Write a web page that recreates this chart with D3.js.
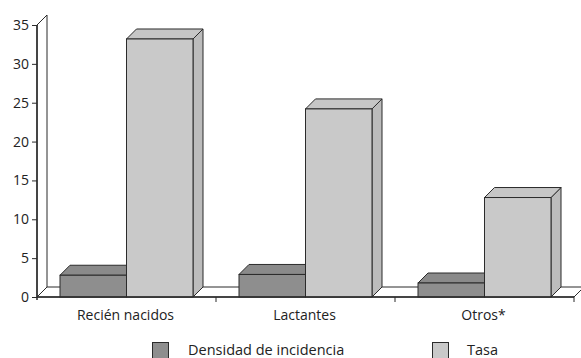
<!DOCTYPE html>
<html>
<head>
<meta charset="utf-8">
<script src="https://cdn.jsdelivr.net/npm/d3@7"></script>
<style>
  html, body { margin: 0; padding: 0; background: #fff; }
  svg { display: block; }
  text { font-family: "Open Sans", "Liberation Sans", sans-serif; fill: #222; }
</style>
</head>
<body>
<svg id="chart" width="581" height="358"></svg>
<script>
// Categories and the two series
const categories = ["Recién nacidos", "Lactantes", "Otros*"];
const seriesNames = ["Densidad de incidencia", "Tasa"];
const densidad = [2.8, 2.9, 1.8];
const tasa = [33.2, 24.2, 12.8];
const yTicks = [0, 5, 10, 15, 20, 25, 30, 35];

const depth = 10;                 // 3D offset (right and up)
const gap = 23;                   // space between category edge and its bar group
const plot = { left: 37, right: 574, top: 25, bottom: 297 };

const svg = d3.select("#chart");

const y = d3.scaleLinear().domain([0, 35]).range([plot.bottom, plot.top]);
const x = d3.scaleBand().domain(categories).range([plot.left, plot.right]).padding(0);
// Two side-by-side bars inside each category band
const inner = d3.scaleBand().domain(seriesNames).range([gap, x.bandwidth() - gap]).padding(0);
const barW = inner.bandwidth();

const colors = {
  "Densidad de incidencia": { front: "#8e8e8e", top: "#8a8a8a", side: "#7d7d7d" },
  "Tasa": { front: "#c9c9c9", top: "#c6c6c6", side: "#bcbcbc" }
};
const stroke = "#2b2b2b";

// Walls and floor
const walls = svg.append("g");
walls.append("path")
  .attr("d", `M${plot.left},${plot.bottom} L${plot.left + depth},${plot.bottom - depth} L${plot.left + depth},${plot.top - depth} L${plot.left},${plot.top} Z`)
  .attr("fill", "#fff").attr("stroke", stroke).attr("stroke-width", 1);
walls.append("path")
  .attr("d", `M${plot.left},${plot.bottom} L${plot.left + depth},${plot.bottom - depth} L${plot.right + depth},${plot.bottom - depth} L${plot.right},${plot.bottom} Z`)
  .attr("fill", "#fff").attr("stroke", stroke).attr("stroke-width", 1);

// Bars: side, top, then front face
const bars = svg.append("g");
categories.forEach((c, i) => {
  const vals = [densidad[i], tasa[i]];
  seriesNames.forEach((s, j) => {
    const x0 = x(c) + inner(s);
    const x1 = x0 + barW;
    const yt = y(vals[j]);
    const yb = y(0);
    const col = colors[s];
    bars.append("path")
      .attr("d", `M${x1},${yb} L${x1 + depth},${yb - depth} L${x1 + depth},${yt - depth} L${x1},${yt} Z`)
      .attr("fill", col.side).attr("stroke", stroke).attr("stroke-width", 1).attr("stroke-linejoin", "round");
    bars.append("path")
      .attr("d", `M${x0},${yt} L${x0 + depth},${yt - depth} L${x1 + depth},${yt - depth} L${x1},${yt} Z`)
      .attr("fill", col.top).attr("stroke", stroke).attr("stroke-width", 1).attr("stroke-linejoin", "round");
    bars.append("rect")
      .attr("x", x0).attr("y", yt).attr("width", barW).attr("height", yb - yt)
      .attr("fill", col.front).attr("stroke", stroke).attr("stroke-width", 1);
  });
});

// Y axis
const yAxis = d3.axisLeft(y).tickValues(yTicks).tickSize(5).tickPadding(3).tickFormat(d3.format("d"));
const gy = svg.append("g").attr("transform", `translate(${plot.left},0)`).call(yAxis);
gy.select(".domain").attr("d", `M0,${plot.bottom + 3}V${plot.top}`).attr("stroke", stroke).attr("stroke-width", 1.5);
gy.selectAll(".tick line").attr("stroke", stroke);
gy.selectAll(".tick text").attr("font-size", 14).attr("font-family", "Open Sans, sans-serif").attr("fill", "#222");

// X axis baseline with category boundary ticks
const xAxis = svg.append("g");
xAxis.append("line")
  .attr("x1", plot.left).attr("x2", plot.right)
  .attr("y1", plot.bottom).attr("y2", plot.bottom)
  .attr("stroke", stroke).attr("stroke-width", 1.5);
categories.forEach(c => {
  const bx = x(c) + x.bandwidth();
  xAxis.append("line").attr("x1", bx).attr("x2", bx)
    .attr("y1", plot.bottom).attr("y2", plot.bottom + 5)
    .attr("stroke", stroke).attr("stroke-width", 1);
});
xAxis.selectAll("text.cat").data(categories).join("text")
  .attr("class", "cat")
  .attr("x", d => x(d) + inner(seriesNames[1]) - 1)
  .attr("y", 320)
  .attr("text-anchor", "middle")
  .attr("font-size", 14)
  .text(d => d);

// Legend
const legend = svg.append("g");
const legendPos = [{ sx: 152, tx: 188 }, { sx: 432, tx: 467 }];
seriesNames.forEach((s, j) => {
  legend.append("rect")
    .attr("x", legendPos[j].sx + 0.5).attr("y", 342.5).attr("width", 16).attr("height", 16)
    .attr("fill", colors[s].front).attr("stroke", stroke).attr("stroke-width", 1);
  legend.append("text")
    .attr("x", legendPos[j].tx).attr("y", 355)
    .attr("font-size", 14.5)
    .text(s);
});
</script>
</body>
</html>
